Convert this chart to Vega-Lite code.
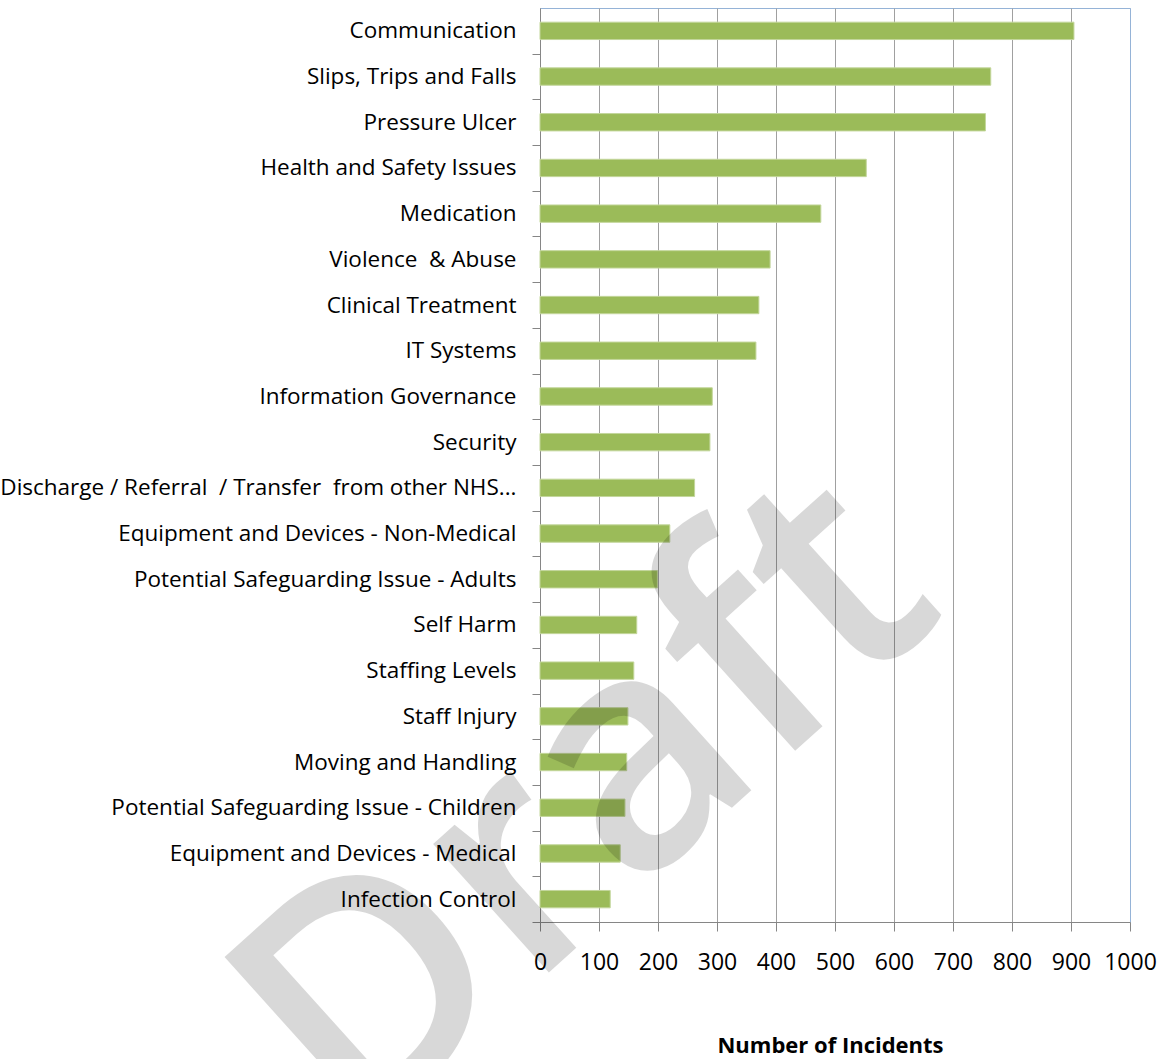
{
  "$schema": "https://vega.github.io/schema/vega-lite/v6.json",
  "width": 590,
  "height": 914,
  "autosize": "none",
  "padding": {"left": 540, "top": 8, "right": 38, "bottom": 137},
  "background": "white",
  "config": {
    "view": {"stroke": "#95b3d7", "strokeWidth": 1},
    "font": "Open Sans"
  },
  "layer": [
    {
      "data": {
        "values": [
          {"category": "Communication", "incidents": 905},
          {"category": "Slips, Trips and Falls", "incidents": 764},
          {"category": "Pressure Ulcer", "incidents": 755},
          {"category": "Health and Safety Issues", "incidents": 553},
          {"category": "Medication", "incidents": 476},
          {"category": "Violence \u00a0& Abuse", "incidents": 390},
          {"category": "Clinical Treatment", "incidents": 371},
          {"category": "IT Systems", "incidents": 366},
          {"category": "Information Governance", "incidents": 292},
          {"category": "Security", "incidents": 288},
          {"category": "Discharge / Referral \u00a0/ Transfer \u00a0from other NHS...", "incidents": 262},
          {"category": "Equipment and Devices - Non-Medical", "incidents": 220},
          {"category": "Potential Safeguarding Issue - Adults", "incidents": 199},
          {"category": "Self Harm", "incidents": 164},
          {"category": "Staffing Levels", "incidents": 159},
          {"category": "Staff Injury", "incidents": 149},
          {"category": "Moving and Handling", "incidents": 147},
          {"category": "Potential Safeguarding Issue - Children", "incidents": 144},
          {"category": "Equipment and Devices - Medical", "incidents": 136},
          {"category": "Infection Control", "incidents": 119}
        ]
      },
      "mark": {"type": "bar", "color": "#9bbb59", "stroke": "#c3d69b", "strokeWidth": 1},
      "encoding": {
        "y": {
          "field": "category",
          "type": "nominal",
          "sort": null,
          "scale": {"paddingInner": 0.62, "paddingOuter": 0.31},
          "axis": {
            "title": null,
            "grid": false,
            "domainColor": "#868686",
            "tickColor": "#868686",
            "tickSize": 8,
            "tickOffset": 22.85,
            "labelOffset": -22.85,
            "labelFont": "Open Sans",
            "labelFontSize": 22.5,
            "labelColor": "#000000",
            "labelPadding": 16,
            "labelLimit": 0
          }
        },
        "x": {
          "field": "incidents",
          "type": "quantitative",
          "scale": {"domain": [0, 1000], "nice": false},
          "axis": {
            "values": [0, 100, 200, 300, 400, 500, 600, 700, 800, 900, 1000],
            "format": "d",
            "grid": true,
            "gridColor": {"condition": {"test": "datum.value == 1000", "value": "#95b3d7"}, "value": "#a0a0a0"},
            "domainColor": "#868686",
            "tickColor": "#868686",
            "tickSize": 9,
            "labelFont": "Open Sans",
            "labelFontSize": 23,
            "labelColor": "#000000",
            "labelPadding": 20,
            "labelFlush": false,
            "labelOverlap": false,
            "title": "Number of Incidents",
            "titleFont": "Open Sans",
            "titleFontSize": 22,
            "titleFontWeight": "bold",
            "titleColor": "#000000",
            "titleBaseline": "alphabetic",
            "titleY": 130,
            "titleX": 290,
            "titleAlign": "center"
          }
        }
      }
    },
    {
      "data": {"values": [{"word": "Draft"}]},
      "mark": {"type": "text", "angle": -42, "fontSize": 320, "fontWeight": 600, "font": "Open Sans", "color": "#000000", "opacity": 0.15, "align": "center", "baseline": "middle"},
      "encoding": {
        "x": {"datum": 82, "type": "quantitative"},
        "y": {"datum": "Potential Safeguarding Issue - Children", "type": "nominal"},
        "text": {"field": "word", "type": "nominal"}
      }
    }
  ]
}
